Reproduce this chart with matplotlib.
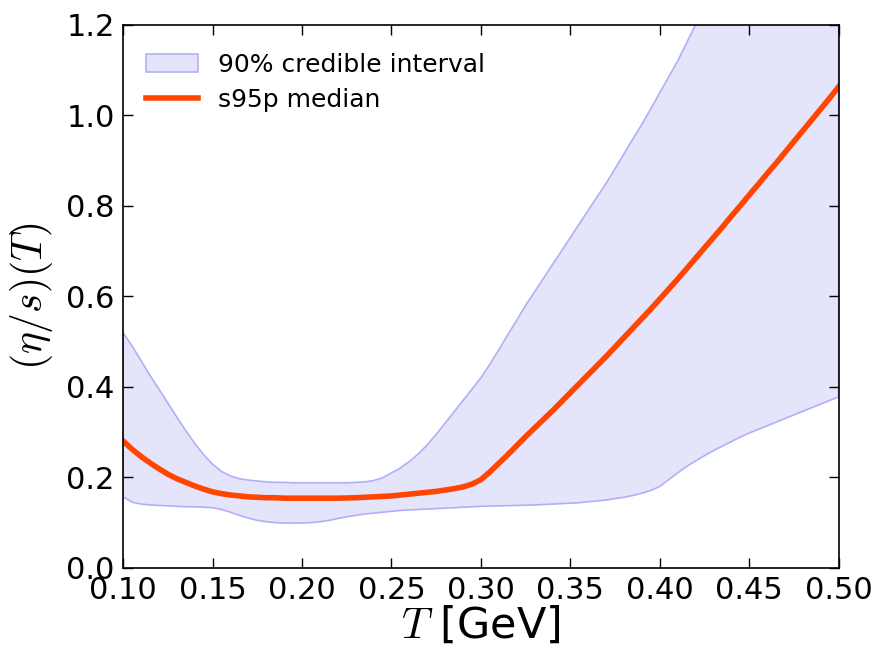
import numpy as np
import matplotlib
matplotlib.use("Agg")
import matplotlib.pyplot as plt
from matplotlib.ticker import FormatStrFormatter

plt.rcParams['mathtext.fontset'] = 'cm'
plt.rcParams['font.family'] = ['DejaVu Sans']

# temperature grid (GeV), step 0.005
T = [0.100, 0.105, 0.110, 0.115, 0.120, 0.125, 0.130, 0.135, 0.140, 0.145,
     0.150, 0.155, 0.160, 0.165, 0.170, 0.175, 0.180, 0.185, 0.190, 0.195,
     0.200, 0.205, 0.210, 0.215, 0.220, 0.225, 0.230, 0.235, 0.240, 0.245,
     0.250, 0.255, 0.260, 0.265, 0.270, 0.275, 0.280, 0.285, 0.290, 0.295,
     0.300, 0.305, 0.310, 0.315, 0.320, 0.325, 0.330, 0.335, 0.340, 0.345,
     0.350, 0.355, 0.360, 0.365, 0.370, 0.375, 0.380, 0.385, 0.390, 0.395,
     0.400, 0.405, 0.410, 0.415, 0.420, 0.425, 0.430, 0.435, 0.440, 0.445,
     0.450, 0.455, 0.460, 0.465, 0.470, 0.475, 0.480, 0.485, 0.490, 0.495,
     0.500]

median = [0.280, 0.262, 0.246, 0.232, 0.219, 0.207, 0.197, 0.189, 0.181, 0.174,
          0.168, 0.164, 0.161, 0.159, 0.157, 0.156, 0.155, 0.155, 0.154, 0.154,
          0.154, 0.154, 0.154, 0.154, 0.154, 0.1545, 0.155, 0.156, 0.157, 0.158,
          0.159, 0.161, 0.163, 0.165, 0.167, 0.169, 0.172, 0.175, 0.179, 0.185,
          0.195, 0.212, 0.231, 0.250, 0.270, 0.290, 0.309, 0.328, 0.347, 0.367,
          0.387, 0.407, 0.427, 0.447, 0.467, 0.488, 0.509, 0.530, 0.551, 0.572,
          0.594, 0.616, 0.638, 0.661, 0.684, 0.707, 0.730, 0.753, 0.777, 0.800,
          0.824, 0.847, 0.871, 0.894, 0.918, 0.942, 0.966, 0.990, 1.014, 1.038,
          1.063]

upper = [0.519, 0.490, 0.458, 0.425, 0.395, 0.364, 0.333, 0.303, 0.275, 0.250,
         0.229, 0.213, 0.203, 0.197, 0.194, 0.192, 0.190, 0.189, 0.189, 0.188,
         0.188, 0.188, 0.188, 0.188, 0.188, 0.188, 0.189, 0.190, 0.193, 0.199,
         0.210, 0.221, 0.235, 0.252, 0.272, 0.295, 0.320, 0.345, 0.370, 0.395,
         0.420, 0.450, 0.482, 0.515, 0.547, 0.580, 0.610, 0.640, 0.670, 0.700,
         0.730, 0.760, 0.790, 0.820, 0.850, 0.882, 0.915, 0.948, 0.980, 1.015,
         1.050, 1.085, 1.120, 1.160, 1.200, 1.235, 1.270, 1.305, 1.340, 1.375,
         1.410, 1.445, 1.480, 1.515, 1.550, 1.585, 1.620, 1.655, 1.690, 1.725,
         1.760]

lower = [0.157, 0.145, 0.141, 0.139, 0.138, 0.137, 0.136, 0.135, 0.135, 0.134,
         0.133, 0.129, 0.123, 0.116, 0.110, 0.105, 0.102, 0.100, 0.099, 0.099,
         0.099, 0.100, 0.102, 0.105, 0.109, 0.113, 0.116, 0.119, 0.121, 0.123,
         0.125, 0.127, 0.128, 0.129, 0.130, 0.131, 0.132, 0.133, 0.134, 0.135,
         0.136, 0.1365, 0.137, 0.1375, 0.138, 0.1385, 0.139, 0.140, 0.141, 0.142,
         0.143, 0.144, 0.146, 0.148, 0.150, 0.153, 0.156, 0.160, 0.165, 0.171,
         0.180, 0.195, 0.210, 0.224, 0.236, 0.248, 0.259, 0.269, 0.279, 0.289,
         0.298, 0.306, 0.314, 0.322, 0.330, 0.338, 0.346, 0.354, 0.362, 0.370,
         0.378]

fig = plt.figure(figsize=(8.8, 6.52), dpi=100)
ax = fig.add_axes([0.14, 0.129, 0.813, 0.833])

ax.fill_between(T, lower, upper, facecolor='#e4e4fa', edgecolor='#b0b0f8',
                linewidth=1.2, label='90% credible interval')
ax.plot(T, median, color='#ff4500', linewidth=4, label='s95p median')

ax.set_xlim(0.10, 0.50)
ax.set_ylim(0.0, 1.2)
ax.set_xticks(np.arange(0.10, 0.501, 0.05))
ax.set_yticks(np.arange(0.0, 1.201, 0.2))
ax.xaxis.set_major_formatter(FormatStrFormatter('%.2f'))
ax.yaxis.set_major_formatter(FormatStrFormatter('%.1f'))
ax.tick_params(direction='in', top=True, right=True, length=7, width=1,
               labelsize=22, pad=6)
for s in ax.spines.values():
    s.set_linewidth(1.2)

ax.set_xlabel(r'$T$ [GeV]', fontsize=31, labelpad=0)
ax.set_ylabel(r'$(\eta/s)(T)$', fontsize=30, labelpad=8)

ax.legend(loc='upper left', bbox_to_anchor=(0.0, 0.99), frameon=False,
          fontsize=18, handlelength=2.1, handletextpad=0.8,
          borderaxespad=0.5, labelspacing=0.45)

fig.savefig('out.png', dpi=100)
